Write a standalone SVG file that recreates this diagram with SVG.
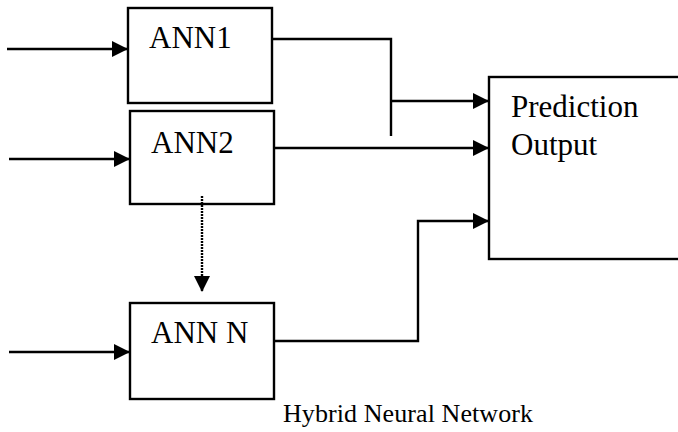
<svg xmlns="http://www.w3.org/2000/svg" width="678" height="432" viewBox="0 0 678 432">
<style>
.box{fill:#fff;stroke:#000;stroke-width:2.4}
.lbl{font-size:31px;fill:#000}
.ln{fill:none;stroke:#000;stroke-width:2.4}
.arr{marker-end:url(#ah)}
</style>
<defs>
<marker id="ah" markerUnits="userSpaceOnUse" markerWidth="16" markerHeight="16" refX="16" refY="8" orient="auto">
<path d="M0,0 L16,8 L0,16 z" fill="#000"/>
</marker>
</defs>
<rect width="678" height="432" fill="#fff"/>
<g font-family="Liberation Serif, Times New Roman, serif">
<g id="ann1">
<rect class="box" x="128" y="8" width="144" height="95"/>
<text class="lbl" x="149" y="48">ANN1</text>
</g>
<g id="ann2">
<rect class="box" x="130" y="111" width="144" height="93"/>
<text class="lbl" x="151" y="153">ANN2</text>
</g>
<g id="annN">
<rect class="box" x="130" y="303" width="144" height="96"/>
<text class="lbl" x="151" y="343">ANN N</text>
</g>
<g id="prediction">
<rect class="box" x="489" y="77" width="200" height="182"/>
<text class="lbl" x="511" y="117">Prediction</text>
<text class="lbl" x="511" y="155">Output</text>
</g>
<g id="connectors">
<line class="ln arr" x1="7" y1="49" x2="128" y2="49"/>
<line class="ln arr" x1="9" y1="159" x2="130" y2="159"/>
<line class="ln arr" x1="9" y1="352" x2="130" y2="352"/>
<polyline class="ln" points="272,39 391,39 391,136"/>
<line class="ln arr" x1="391" y1="101" x2="489" y2="101"/>
<line class="ln arr" x1="274" y1="148" x2="489" y2="148"/>
<polyline class="ln arr" points="274,341 418,341 418,221 489,221"/>
<line class="ln arr" x1="202" y1="196" x2="202" y2="292" stroke-dasharray="2,1"/>
</g>
<text x="283" y="422" font-size="26" textLength="250" lengthAdjust="spacing">Hybrid Neural Network</text>
</g>
</svg>
